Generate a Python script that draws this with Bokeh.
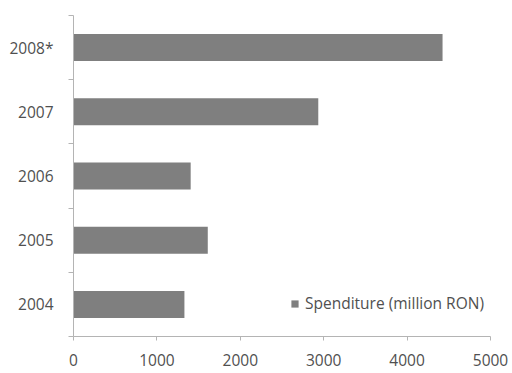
from bokeh.plotting import figure
from bokeh.models import FixedTicker, Legend, LegendItem, Range1d
from bokeh.embed import file_html
from bokeh.resources import INLINE

# Annual spenditure, million RON (2008 is an estimate)
years = ["2004", "2005", "2006", "2007", "2008*"]
spenditure = [1330, 1610, 1405, 2935, 4425]
x_ticks = [0, 1000, 2000, 3000, 4000, 5000]

positions = [i + 0.5 for i in range(len(years))]
boundaries = list(range(len(years) + 1))

p = figure(width=512, height=373, output_backend="svg", toolbar_location=None,
           x_range=Range1d(0, 5000), y_range=Range1d(0, len(years)),
           min_border_left=73, min_border_right=22, min_border_top=15, min_border_bottom=37)
p.outline_line_color = None
p.xgrid.visible = False
p.ygrid.visible = False
p.background_fill_color = "white"
p.border_fill_color = "white"

bars = p.hbar(y=positions, right=spenditure, left=0, height=0.42,
              fill_color="#7f7f7f", line_color=None)

font = "Open Sans"
axis_color = "#b4b4b4"
label_color = "#505050"

# x axis
p.xaxis.ticker = FixedTicker(ticks=x_ticks)
p.xaxis.axis_line_color = axis_color
p.xaxis.major_tick_line_color = axis_color
p.xaxis.major_tick_out = 4
p.xaxis.major_tick_in = 0
p.xaxis.minor_tick_line_color = None
p.xaxis.major_label_text_font = font
p.xaxis.major_label_text_font_size = "15.5px"
p.xaxis.major_label_text_color = label_color
p.xaxis.major_label_standoff = 13

# y axis: labels at category centres, tick marks at category boundaries
p.yaxis.ticker = FixedTicker(ticks=positions, minor_ticks=boundaries)
p.yaxis.major_label_overrides = {pos: yr for pos, yr in zip(positions, years)}
p.yaxis.axis_line_color = axis_color
p.yaxis.major_tick_line_color = None
p.yaxis.minor_tick_line_color = axis_color
p.yaxis.minor_tick_out = 5
p.yaxis.minor_tick_in = 0
p.yaxis.major_label_text_font = font
p.yaxis.major_label_text_font_size = "15.5px"
p.yaxis.major_label_text_color = label_color
p.yaxis.major_label_standoff = 14

legend = Legend(items=[LegendItem(label="Spenditure (million RON)", renderers=[bars])],
                location=(217, 22), orientation="horizontal",
                glyph_width=9, glyph_height=9, label_standoff=6,
                padding=0, margin=0, border_line_color=None,
                background_fill_alpha=0,
                label_text_font=font, label_text_font_size="15.5px",
                label_text_color=label_color)
p.add_layout(legend, "center")

open("out.html", "w").write(file_html(p, INLINE))
